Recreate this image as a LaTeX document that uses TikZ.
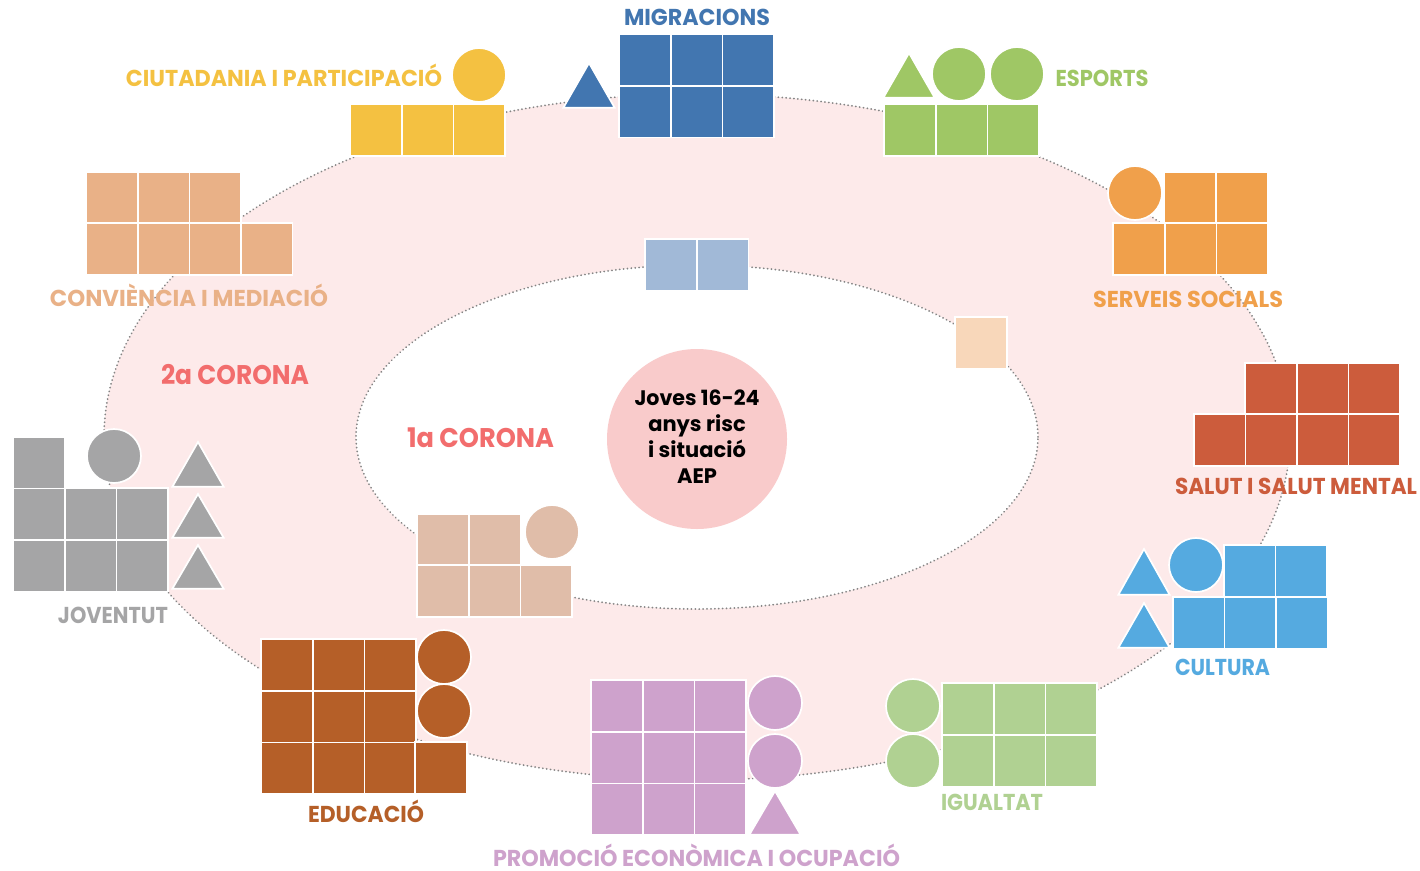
\documentclass[tikz,border=0pt]{standalone}
\usepackage{fontspec}
\usepackage{graphicx}
\setmainfont{Poppins}
\definecolor{cMig}{HTML}{4276B0}
\definecolor{cCiu}{HTML}{F4C141}
\definecolor{cEsp}{HTML}{9FC765}
\definecolor{cSer}{HTML}{F0A04B}
\definecolor{cSal}{HTML}{CC5C3C}
\definecolor{cCul}{HTML}{55AAE0}
\definecolor{cIgu}{HTML}{B0D192}
\definecolor{cPro}{HTML}{CEA2CC}
\definecolor{cEdu}{HTML}{B55F28}
\definecolor{cJov}{HTML}{A5A5A6}
\definecolor{cCon}{HTML}{E9B187}
\definecolor{cTan}{HTML}{E0BDA9}
\definecolor{cBlu}{HTML}{A1B9D7}
\definecolor{cPea}{HTML}{F8D7BA}
\definecolor{cRing}{HTML}{FDEAEA}
\definecolor{cCen}{HTML}{F9CBCB}
\definecolor{cCor}{HTML}{F26D6D}
\definecolor{cDot}{HTML}{858585}
\tikzset{
  piece/.style={draw=white,line width=1.7pt,line join=miter},
  ringline/.style={draw=cDot,line width=1.9pt,line cap=round,dash pattern=on 0.1pt off 3.8pt},
  lab/.style={inner sep=0pt,anchor=base,font=\fontsize{23}{26}\selectfont\bfseries},
}
% top-left x, y, cols, rows, colour
\newcommand{\cellblock}[5]{%
  \foreach \ci in {1,...,#3}{\foreach \cj in {1,...,#4}{%
    \path[piece,fill=#5] ({#1-0.7+(\ci-1)*51.55},{#2-0.7+(\cj-1)*51.55}) rectangle ++(51.55,51.55);
  }}}
\newcommand{\disc}[3]{\path[piece,fill=#3] (#1,#2) circle[radius=27pt];}
% apex x, apex y, base y
\newcommand{\tri}[4]{\path[piece,fill=#4] (#1,{#2-2}) -- ({#1+25.7},{#3+0.8}) -- ({#1-25.7},{#3+0.8}) -- cycle;}
% name, centre x, centre y, width, colour, text
\newcommand{\lbl}[6]{\node[lab,text=#5] (#1) at (#2,{#3+8}) {\resizebox{#4pt}{\height}{#6}};}
\begin{document}
\begin{tikzpicture}[x=1pt,y=-1pt]
\useasboundingbox (0,0) rectangle (1420,870);
\fill[white] (0,0) rectangle (1420,870);
% rings
\path[ringline,fill=cRing] (697,437) ellipse [x radius=593pt,y radius=343pt];
\path[ringline,fill=white] (697,437) ellipse [x radius=341pt,y radius=172pt];
\node[circle,fill=cCen,minimum size=180pt,inner sep=0pt] (centre) at (697,439) {};
\node[inner sep=0pt,align=center,font=\fontsize{21}{26}\selectfont\bfseries,text=black] (centretext) at (697,437) {\resizebox{125pt}{\height}{Joves 16-24}\\anys risc\\i situació\\AEP};
% Migracions
\cellblock{620}{35}{3}{2}{cMig}
\tri{589}{65}{107}{cMig}
\lbl{migr}{697}{18}{146}{cMig}{MIGRACIONS}
% Ciutadania
\cellblock{351}{105}{3}{1}{cCiu}
\disc{479}{75}{cCiu}
\lbl{ciut}{284}{78}{316}{cCiu}{CIUTADANIA I PARTICIPACIÓ}
% Esports
\cellblock{885}{105}{3}{1}{cEsp}
\tri{909}{55}{97}{cEsp}
\disc{959}{74}{cEsp}
\disc{1017}{74}{cEsp}
\lbl{espo}{1102}{78}{93}{cEsp}{ESPORTS}
% Serveis socials
\cellblock{1165}{172.5}{2}{1}{cSer}
\cellblock{1114}{224}{3}{1}{cSer}
\disc{1135}{193}{cSer}
\lbl{serv}{1188}{299}{190}{cSer}{SERVEIS SOCIALS}
% Salut
\cellblock{1246}{363.5}{3}{1}{cSal}
\cellblock{1194.5}{415}{4}{1}{cSal}
\lbl{salu}{1296}{486}{242}{cSal}{SALUT I SALUT MENTAL}
% Cultura
\cellblock{1224.5}{546}{2}{1}{cCul}
\cellblock{1173.5}{597.5}{3}{1}{cCul}
\tri{1144}{551}{594}{cCul}
\tri{1144}{605}{647}{cCul}
\disc{1196}{565}{cCul}
\lbl{cult}{1222.5}{667}{95}{cCul}{CULTURA}
% Igualtat
\cellblock{943}{684}{3}{2}{cIgu}
\disc{913}{706}{cIgu}
\disc{913}{761}{cIgu}
\lbl{igua}{992}{802}{102}{cIgu}{IGUALTAT}
% Promocio
\cellblock{592}{681}{3}{3}{cPro}
\disc{775}{703}{cPro}
\disc{775}{761}{cPro}
\tri{775}{793}{834}{cPro}
\lbl{prom}{696.5}{858}{407}{cPro}{PROMOCIÓ ECONÒMICA I OCUPACIÓ}
% Educacio
\cellblock{262}{640}{3}{3}{cEdu}
\cellblock{416}{742.5}{1}{1}{cEdu}
\disc{444}{657}{cEdu}
\disc{444}{711}{cEdu}
\lbl{educ}{366}{814}{116}{cEdu}{EDUCACIÓ}
% Joventut
\cellblock{14}{489}{3}{2}{cJov}
\cellblock{14}{437.5}{1}{1}{cJov}
\disc{114}{456}{cJov}
\tri{198}{444}{486}{cJov}
\tri{198}{496}{537}{cJov}
\tri{198}{547}{588}{cJov}
\lbl{jove}{113}{615}{110}{cJov}{JOVENTUT}
% Convivencia
\cellblock{87}{172.5}{3}{1}{cCon}
\cellblock{87}{224}{4}{1}{cCon}
\lbl{conv}{189}{298}{278}{cCon}{CONVIÈNCIA I MEDIACIÓ}
% inner corona
\cellblock{646}{239.5}{2}{1}{cBlu}
\cellblock{956}{317.5}{1}{1}{cPea}
\cellblock{418}{514.5}{2}{1}{cTan}
\cellblock{418}{566}{3}{1}{cTan}
\disc{552}{532}{cTan}
% corona labels
\node[lab,anchor=center,text=cCor,font=\fontsize{27}{30}\selectfont\bfseries] (c2) at (235,375) {\resizebox{148pt}{\height}{2a CORONA}};
\node[lab,anchor=center,text=cCor,font=\fontsize{27}{30}\selectfont\bfseries] (c1) at (480.5,438) {\resizebox{147pt}{\height}{1a CORONA}};
\end{tikzpicture}
\end{document}
